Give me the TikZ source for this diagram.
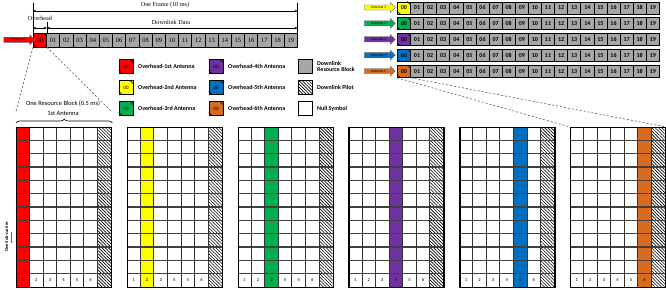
\documentclass[tikz,border=0pt]{standalone}
\usepackage{fontspec}
\setmainfont{Carlito}
\newfontfamily\serifface{Liberation Serif}
\usetikzlibrary{arrows.meta,patterns,patterns.meta,shapes.arrows,decorations.pathreplacing,calc}
\definecolor{cred}{HTML}{FF0000}
\definecolor{cyellow}{HTML}{FFFF00}
\definecolor{cgreen}{HTML}{00B050}
\definecolor{cpurple}{HTML}{7030A0}
\definecolor{cblue}{HTML}{0070C0}
\definecolor{corange}{HTML}{D86C1E}
\definecolor{cgray}{HTML}{A6A6A6}
\newcommand{\fsz}[1]{\fontsize{#1}{#1}\selectfont}
\newcommand{\cmarks}[1]{%
  \draw[line width=0.5pt] ($(#1.north east)+(-3.5,0)$) -- ($(#1.north east)+(0,3.5)$);
  \draw[line width=0.5pt] ($(#1.south west)+(0,-3.5)$) -- ($(#1.south west)+(3.5,0)$);}
\tikzset{
  fcell/.style={draw=black, line width=0.7pt, fill=cgray, minimum width=13.2pt, minimum height=13.6pt, inner sep=0pt, anchor=north west, font=\serifface\fsz{6.5}},
  rcell/.style={draw=black, line width=0.7pt, fill=cgray, minimum width=13.1pt, minimum height=12pt, inner sep=0pt, anchor=north west, font=\bfseries\fsz{6}},
  antarrow/.style={single arrow, draw=black!60, line width=0.3pt, minimum width=10pt, minimum height=31pt, single arrow head extend=2pt, inner sep=0.8pt, font=\fsz{3.6}},
  dim/.style={{Stealth[length=3pt,width=2.6pt]}-{Stealth[length=3pt,width=2.6pt]}, line width=0.6pt},
  dimlab/.style={font=\serifface\fsz{6.2}, inner sep=0pt},
  dashline/.style={dash pattern=on 2pt off 2pt, line width=0.6pt, black!65},
  gridline/.style={line width=0.9pt, black!80},
  hgridline/.style={line width=1.2pt, black!75},
  hatch/.style={pattern={Lines[angle=-45, distance=2.3pt, line width=0.6pt]}},
  gridbox/.style={draw=black, line width=1.4pt, minimum width=95pt, minimum height=160pt, inner sep=0pt, anchor=north west},
  numlab/.style={font=\fsz{4.6}, inner sep=0pt},
  lgbox/.style={draw=black, line width=0.7pt, minimum width=14pt, minimum height=13.5pt, inner sep=0pt, font=\fsz{5}},
  lgtext/.style={anchor=west, font=\bfseries\fsz{6}, inner sep=0pt, align=left},
}
\begin{document}
\begin{tikzpicture}[x=1pt,y=-1pt]
\useasboundingbox[fill=white] (0,0) rectangle (666,289);

% ---------- top-left frame ----------
\node[fcell, fill=cred] (f0) at (33,33) {00};
\foreach \i in {1,...,19} {
  \pgfmathsetmacro\xx{33+13.2*\i}
  \node[fcell] (f\i) at (\xx,33) {\ifnum\i<10 0\fi\i};
}
\cmarks{f0}
\node[antarrow, fill=cred] (a0) at (18,39.8) {Antenna 0};

\draw[line width=0.6pt] (f0.north west) -- ++(0,-30);
\draw[line width=0.6pt] (f19.north east) -- ++(0,-30);
\draw[line width=0.6pt] (f0.north east) -- ++(0,-11);
\draw[dim] ($(f0.north west)+(0,-22)$) -- ($(f19.north east)+(0,-22)$);
\draw[dim] ($(f0.north west)+(0,-5)$) -- ($(f0.north east)+(0,-5)$);
\draw[dim] ($(f0.north east)+(0,-5)$) -- ($(f19.north east)+(0,-5)$);
\node[dimlab] (lframe) at (165,5) {One Frame (10 ms)};
\node[dimlab] (lover) at (40,18) {Overhead};
\node[dimlab] (ldata) at (171,22) {Downlink Data};

% ---------- top-right frames ----------
\foreach \k/\col in {1/cyellow,2/cgreen,3/cpurple,4/cblue,5/corange} {
  \pgfmathsetmacro\yy{1.5+15.9*(\k-1)}
  \node[rcell, fill=\col] (r\k-0) at (397,\yy) {00};
  \cmarks{r\k-0}
  \foreach \i in {1,...,19} {
    \pgfmathsetmacro\xx{397+13.1*\i}
    \node[rcell] (r\k-\i) at (\xx,\yy) {\ifnum\i<10 0\fi\i};
  }
  \node[antarrow, fill=\col] (a\k) at (378.5,\yy+6) {Antenna \k};
}

% ---------- legend ----------
\foreach \n/\x/\y/\col/\txt in {1/126/66.5/cred/Overhead-1st Antenna, 2/126/87.5/cyellow/Overhead-2nd Antenna, 3/126/108.5/cgreen/Overhead-3rd Antenna, 4/216/66.5/cpurple/Overhead-4th Antenna, 5/216/87.5/cblue/Overhead-5th Antenna, 6/216/108.5/corange/Overhead-6th Antenna} {
  \node[lgbox, fill=\col] (L\n) at (\x,\y) {00};
  \cmarks{L\n}
  \node[lgtext] (T\n) at (\x+12,\y) {\txt};
}
\node[lgbox, fill=cgray] (L7) at (305,66.5) {};
\node[lgtext] (T7) at (317,66.5) {Downlink\\Resource Block};
\node[lgbox, hatch] (L8) at (305,87.5) {};
\node[lgtext] (T8) at (317,87.5) {Downlink Pilot};
\node[lgbox, fill=white] (L9) at (305,108.5) {};
\node[lgtext] (T9) at (317,108.5) {Null Symbol};

% ---------- resource block grids ----------
\foreach \g/\col in {0/cred,1/cyellow,2/cgreen,3/cpurple,4/cblue,5/corange} {
  \pgfmathsetmacro\gx{16+110.8*\g}
  \pgfmathsetmacro\cx{\gx+13.571*\g}
  \pgfmathsetmacro\gr{\gx+95}
  \fill[\col] (\cx,127) rectangle ++(13.571,160);
  \fill[hatch] (\gx+81.43,127) rectangle ++(13.57,160);
  \foreach \ry in {140.33,153.67,167,180.33,193.67,207,220.33,233.67,247,260.33,273.67} {
    \draw[hgridline] (\gx,\ry) -- (\gr,\ry);
  }
  \foreach \c in {1,...,6} \draw[gridline] (\gx+13.571*\c,127) -- ++(0,160);
  \foreach \c in {1,...,6} \node[numlab] (n\g-\c) at (\gx+13.571*\c-6.786,280.4) {\c};
  \node[gridbox] (G\g) at (\gx,127) {};
}

% brace and labels over first grid
\draw[decorate, decoration={brace, amplitude=4pt}, line width=0.6pt] ($(G0.north west)+(0,-4)$) -- ($(G0.north east)+(0,-4)$);
\node[font=\fsz{6.4}, inner sep=0pt] (rb1) at (63,104) {One Resource Block (0.5 ms)};
\node[font=\fsz{6.4}, inner sep=0pt] (rb2) at (63,113) {1st Antenna};

% dashed zoom lines
\coordinate (bL) at (16,111);
\coordinate (bR) at (111,111);
\draw[dashline] (f0.south west) -- (bL);
\draw[dashline] (f0.south east) -- (bR);
\draw[dashline] (r5-0.south west) -- (G5.north west);
\draw[dashline] (r5-0.south east) -- (G5.north east);

% sub-carrier label
\node[rotate=90, font=\bfseries\fsz{4.6}, inner sep=0pt] (sc) at (6.5,237) {One Sub-carrier};
\coordinate (sct) at (11.5,232);
\coordinate (scb) at (11.5,243);
\draw[{Stealth[length=1.5pt,width=1.5pt]}-{Stealth[length=1.5pt,width=1.5pt]}, line width=0.3pt, black!60] (sct) -- (scb);
\end{tikzpicture}
\end{document}
